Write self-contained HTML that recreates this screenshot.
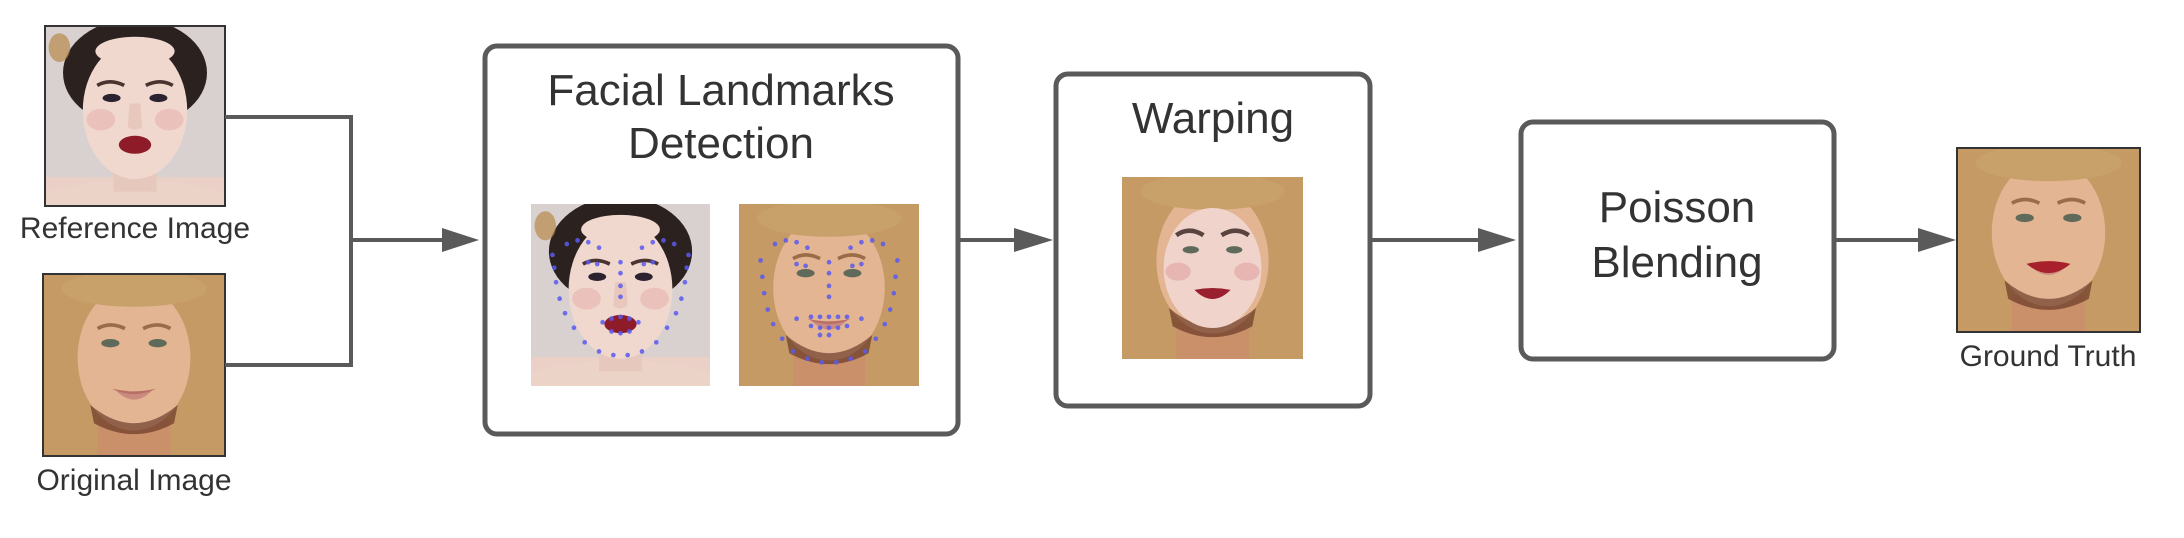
<!DOCTYPE html>
<html><head><meta charset="utf-8"><style>
html,body{margin:0;padding:0;background:#fff;}
svg{display:block}
text{font-family:"Liberation Sans",sans-serif;fill:#333}
</style></head><body>
<svg width="2184" height="538" viewBox="0 0 2184 538" xmlns="http://www.w3.org/2000/svg">
<defs>
<g id="asian">
  <rect x="0" y="0" width="100" height="100" fill="#d8d1d0"/>
  <ellipse cx="50" cy="26" rx="40" ry="30" fill="#2b2220"/>
  <rect x="0" y="84" width="100" height="16" fill="#ead0c6"/>
  <ellipse cx="50" cy="98" rx="55" ry="12" fill="#ecd3c8"/>
  <rect x="38" y="70" width="24" height="22" fill="#e6c8bc"/>
  <ellipse cx="50" cy="47" rx="29" ry="38" fill="#f0d8cf"/>
  <ellipse cx="50" cy="14" rx="22" ry="8" fill="#f0d8cf"/>
  <ellipse cx="31" cy="52" rx="8" ry="6" fill="#e7b3ad" opacity=".6"/>
  <ellipse cx="69" cy="52" rx="8" ry="6" fill="#e7b3ad" opacity=".6"/>
  <path d="M29 33 Q36 29 44 33" stroke="#4a3430" stroke-width="2" fill="none"/>
  <path d="M56 33 Q64 29 71 33" stroke="#4a3430" stroke-width="2" fill="none"/>
  <ellipse cx="37" cy="40" rx="5" ry="2.3" fill="#2c2230"/>
  <ellipse cx="63" cy="40" rx="5" ry="2.3" fill="#2c2230"/>
  <path d="M47 43 L46 56 Q50 59 54 56 L53 43" fill="#e8c7bd"/>
  <ellipse cx="50" cy="66" rx="9" ry="5" fill="#8e1c28"/>
  <ellipse cx="8" cy="12" rx="6" ry="8" fill="#b88a4a" opacity=".7"/>
</g>
<g id="blonde">
  <rect x="0" y="0" width="100" height="100" fill="#b98d55"/>
  <rect x="0" y="0" width="100" height="100" fill="#d8b07a" opacity=".4"/>
  <rect x="30" y="80" width="40" height="20" fill="#c9906a"/>
  <ellipse cx="50" cy="46" rx="31" ry="40" fill="#e3b592"/>
  <path d="M26 72 Q50 92 74 72 L72 82 Q50 94 28 82Z" fill="#5a2a1a" opacity=".6"/>
  <path d="M30 30 Q37 26 45 30" stroke="#9a6c48" stroke-width="2" fill="none"/>
  <path d="M55 30 Q63 26 70 30" stroke="#9a6c48" stroke-width="2" fill="none"/>
  <ellipse cx="37" cy="38" rx="5" ry="2.3" fill="#5f6a5a"/>
  <ellipse cx="63" cy="38" rx="5" ry="2.3" fill="#5f6a5a"/>
  <path d="M38 63 Q50 70 62 63 Q50 66 38 63Z" fill="#b96f66"/>
  <path d="M40 64 Q50 74 60 64 Q50 68 40 64Z" fill="#c98b7f"/>
  <ellipse cx="50" cy="8" rx="40" ry="10" fill="#c8a06a"/>
</g>
<g id="warp">
  <use href="#blonde"/>
  <ellipse cx="50" cy="50" rx="27" ry="33" fill="#f0d4cc"/>
  <path d="M30 32 Q37 27 45 32" stroke="#5a4440" stroke-width="2.5" fill="none"/>
  <path d="M55 32 Q63 27 70 32" stroke="#5a4440" stroke-width="2.5" fill="none"/>
  <ellipse cx="38" cy="40" rx="4.5" ry="2" fill="#5f6a5a"/>
  <ellipse cx="62" cy="40" rx="4.5" ry="2" fill="#5f6a5a"/>
  <ellipse cx="31" cy="52" rx="7" ry="5" fill="#e2aaa6" opacity=".7"/>
  <ellipse cx="69" cy="52" rx="7" ry="5" fill="#e2aaa6" opacity=".7"/>
  <path d="M40 62 Q50 60 60 62 Q50 72 40 62Z" fill="#9a2030"/>
</g>
<g id="gt">
  <use href="#blonde"/>
  <path d="M38 63 Q50 60 62 63 Q50 73 38 63Z" fill="#a8202c"/>
</g>
</defs>

<svg x="45" y="26" width="180" height="180" viewBox="0 0 100 100" preserveAspectRatio="none"><use href="#asian"/></svg>
<rect x="45" y="26" width="180" height="180" fill="none" stroke="#333" stroke-width="2"/>
<text x="135" y="238" font-size="30" text-anchor="middle">Reference Image</text>

<svg x="43" y="274" width="182" height="182" viewBox="0 0 100 100" preserveAspectRatio="none"><use href="#blonde"/></svg>
<rect x="43" y="274" width="182" height="182" fill="none" stroke="#333" stroke-width="2"/>
<text x="134" y="490" font-size="30" text-anchor="middle">Original Image</text>

<g stroke="#5a5a5a" stroke-width="4" fill="none">
  <polyline points="225,117 351,117 351,365 225,365"/>
  <line x1="351" y1="240" x2="445" y2="240"/>
  <line x1="960" y1="240" x2="1016" y2="240"/>
  <line x1="1372" y1="240" x2="1480" y2="240"/>
  <line x1="1836" y1="240" x2="1920" y2="240"/>
</g>
<g fill="#5a5a5a">
  <polygon points="442,228 479,240 442,252"/>
  <polygon points="1014,228 1053,240 1014,252"/>
  <polygon points="1478,228 1516,240 1478,252"/>
  <polygon points="1918,228 1956,240 1918,252"/>
</g>

<rect x="485" y="46" width="473" height="388" rx="12" fill="#fff" stroke="#5a5a5a" stroke-width="5"/>
<text x="721" y="105" font-size="44" text-anchor="middle">Facial Landmarks</text>
<text x="721" y="158" font-size="44" text-anchor="middle">Detection</text>
<svg x="531" y="204" width="179" height="182" viewBox="0 0 100 100" preserveAspectRatio="none"><use href="#asian"/>
<g fill="#5a5af0" opacity=".85">
<circle cx="20" cy="22" r="1.3"/><circle cx="26" cy="20" r="1.3"/><circle cx="32" cy="21" r="1.3"/><circle cx="38" cy="24" r="1.3"/>
<circle cx="62" cy="24" r="1.3"/><circle cx="68" cy="21" r="1.3"/><circle cx="74" cy="20" r="1.3"/><circle cx="80" cy="22" r="1.3"/>
<circle cx="50" cy="32" r="1.3"/><circle cx="50" cy="38" r="1.3"/><circle cx="50" cy="45" r="1.3"/><circle cx="50" cy="51" r="1.3"/>
<circle cx="12" cy="28" r="1.3"/><circle cx="13" cy="35" r="1.3"/><circle cx="14" cy="43" r="1.3"/><circle cx="16" cy="52" r="1.3"/><circle cx="19" cy="60" r="1.3"/><circle cx="24" cy="68" r="1.3"/><circle cx="30" cy="76" r="1.3"/><circle cx="38" cy="81" r="1.3"/><circle cx="46" cy="83" r="1.3"/>
<circle cx="88" cy="28" r="1.3"/><circle cx="87" cy="35" r="1.3"/><circle cx="86" cy="43" r="1.3"/><circle cx="84" cy="52" r="1.3"/><circle cx="81" cy="60" r="1.3"/><circle cx="76" cy="68" r="1.3"/><circle cx="70" cy="76" r="1.3"/><circle cx="62" cy="81" r="1.3"/><circle cx="54" cy="83" r="1.3"/>
<circle cx="40" cy="65" r="1.3"/><circle cx="45" cy="63" r="1.3"/><circle cx="50" cy="62" r="1.3"/><circle cx="55" cy="63" r="1.3"/><circle cx="60" cy="65" r="1.3"/><circle cx="45" cy="70" r="1.3"/><circle cx="50" cy="71" r="1.3"/><circle cx="55" cy="70" r="1.3"/>
<circle cx="32" cy="32" r="1.3"/><circle cx="37" cy="33" r="1.3"/><circle cx="63" cy="33" r="1.3"/><circle cx="68" cy="32" r="1.3"/>
</g></svg>
<svg x="739" y="204" width="180" height="182" viewBox="0 0 100 100" preserveAspectRatio="none"><use href="#blonde"/>
<g fill="#5a5af0" opacity=".85">
<circle cx="20" cy="22" r="1.3"/><circle cx="26" cy="20" r="1.3"/><circle cx="32" cy="21" r="1.3"/><circle cx="38" cy="24" r="1.3"/>
<circle cx="62" cy="24" r="1.3"/><circle cx="68" cy="21" r="1.3"/><circle cx="74" cy="20" r="1.3"/><circle cx="80" cy="22" r="1.3"/>
<circle cx="50" cy="32" r="1.3"/><circle cx="50" cy="38" r="1.3"/><circle cx="50" cy="45" r="1.3"/><circle cx="50" cy="51" r="1.3"/>
<circle cx="12" cy="31" r="1.3"/><circle cx="13" cy="40" r="1.3"/><circle cx="14" cy="49" r="1.3"/><circle cx="16" cy="58" r="1.3"/><circle cx="19" cy="66" r="1.3"/><circle cx="24" cy="74" r="1.3"/><circle cx="30" cy="81" r="1.3"/><circle cx="38" cy="85" r="1.3"/><circle cx="46" cy="87" r="1.3"/>
<circle cx="88" cy="31" r="1.3"/><circle cx="87" cy="40" r="1.3"/><circle cx="86" cy="49" r="1.3"/><circle cx="84" cy="58" r="1.3"/><circle cx="81" cy="66" r="1.3"/><circle cx="76" cy="74" r="1.3"/><circle cx="70" cy="81" r="1.3"/><circle cx="62" cy="85" r="1.3"/><circle cx="54" cy="87" r="1.3"/>
<circle cx="32" cy="63" r="1.3"/><circle cx="40" cy="62" r="1.3"/><circle cx="45" cy="62" r="1.3"/><circle cx="50" cy="62" r="1.3"/><circle cx="55" cy="62" r="1.3"/><circle cx="60" cy="62" r="1.3"/><circle cx="68" cy="63" r="1.3"/><circle cx="40" cy="67" r="1.3"/><circle cx="45" cy="68" r="1.3"/><circle cx="50" cy="68" r="1.3"/><circle cx="55" cy="68" r="1.3"/><circle cx="60" cy="67" r="1.3"/><circle cx="45" cy="72" r="1.3"/><circle cx="50" cy="72" r="1.3"/>
<circle cx="32" cy="33" r="1.3"/><circle cx="37" cy="34" r="1.3"/><circle cx="63" cy="34" r="1.3"/><circle cx="68" cy="33" r="1.3"/>
</g></svg>

<rect x="1056" y="74" width="314" height="332" rx="12" fill="#fff" stroke="#5a5a5a" stroke-width="5"/>
<text x="1213" y="133" font-size="44" text-anchor="middle">Warping</text>
<svg x="1122" y="177" width="181" height="182" viewBox="0 0 100 100" preserveAspectRatio="none"><use href="#warp"/></svg>

<rect x="1521" y="122" width="313" height="237" rx="12" fill="#fff" stroke="#5a5a5a" stroke-width="5"/>
<text x="1677" y="222" font-size="44" text-anchor="middle">Poisson</text>
<text x="1677" y="277" font-size="44" text-anchor="middle">Blending</text>

<svg x="1957" y="148" width="183" height="184" viewBox="0 0 100 100" preserveAspectRatio="none"><use href="#gt"/></svg>
<rect x="1957" y="148" width="183" height="184" fill="none" stroke="#333" stroke-width="2"/>
<text x="2048" y="366" font-size="30" text-anchor="middle">Ground Truth</text>
</svg>
</body></html>
